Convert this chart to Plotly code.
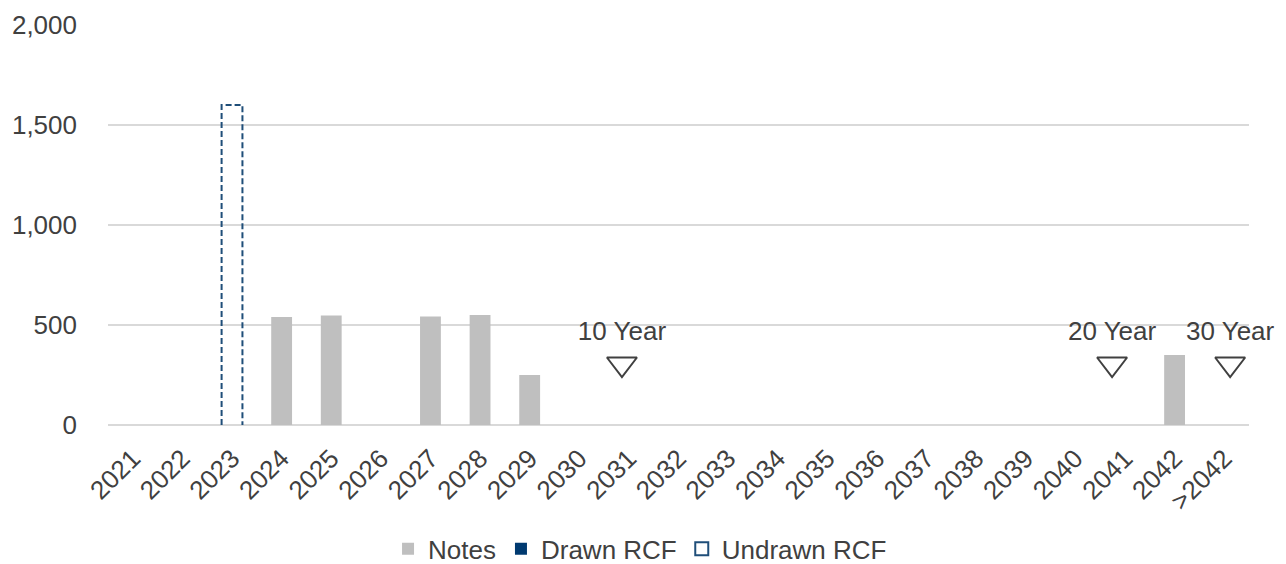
import plotly.graph_objects as go

categories = ["2021", "2022", "2023", "2024", "2025", "2026", "2027", "2028", "2029", "2030",
              "2031", "2032", "2033", "2034", "2035", "2036", "2037", "2038", "2039", "2040",
              "2041", "2042", ">2042"]
notes = [None, None, None, 540, 548, None, 542, 550, 250, None,
         None, None, None, None, None, None, None, None, None, None,
         None, 350, None]
drawn_rcf = [None] * len(categories)
undrawn_rcf = [None, None, 1600] + [None] * 20
milestone_labels = ["10 Year", "20 Year", "30 Year"]
milestone_x = [9.86, 19.74, 22.12]   # positions on the category scale (index units)
milestone_values = [305, 305, 305]
y_ticks = [0, 500, 1000, 1500, 2000]

xpos = list(range(len(categories)))
BAR_W = 0.42
NAVY = "#1F4E79"
FONT = "Liberation Sans, Arial, sans-serif"
TXT = "#404040"

fig = go.Figure()
fig.add_trace(go.Bar(x=xpos, y=notes, name="Notes", width=BAR_W,
                     marker=dict(color="#BFBFBF", line=dict(width=0))))
fig.add_trace(go.Bar(x=xpos, y=drawn_rcf, name="Drawn RCF", width=BAR_W,
                     marker=dict(color="#003A70", line=dict(width=0))))

# dashed outline for undrawn RCF
for i, v in enumerate(undrawn_rcf):
    if v is None:
        continue
    xs = [i - BAR_W / 2, i - BAR_W / 2, i + BAR_W / 2, i + BAR_W / 2]
    ys = [0, v, v, 0]
    fig.add_trace(go.Scatter(x=xs, y=ys, mode="lines", showlegend=False,
                             line=dict(color=NAVY, width=2, dash="6px,3px"),
                             hoverinfo="skip"))
fig.add_trace(go.Scatter(x=[None], y=[None], mode="markers", name="Undrawn RCF",
                         marker=dict(symbol="square-open", size=13, color=NAVY,
                                     line=dict(width=2, color=NAVY))))

fig.add_trace(go.Scatter(x=milestone_x, y=milestone_values, mode="markers+text",
                         text=milestone_labels, textposition="top center",
                         textfont=dict(size=26, color=TXT, family=FONT),
                         marker=dict(symbol="triangle-down-open", size=26, color=TXT,
                                     line=dict(width=2, color=TXT)),
                         showlegend=False, cliponaxis=False))

fig.update_layout(
    width=1286, height=564,
    margin=dict(l=108, r=37, t=25, b=139),
    paper_bgcolor="white", plot_bgcolor="white",
    font=dict(family=FONT, size=26, color=TXT),
    barmode="overlay",
    showlegend=True,
    legend=dict(orientation="h", xref="container", yref="container",
                x=0.4977, xanchor="center", y=0.027, yanchor="middle",
                font=dict(size=26, color=TXT), itemwidth=30, traceorder="normal"),
)
fig.update_xaxes(range=[-0.5, len(categories) - 0.5], tickmode="array", tickvals=xpos,
                 ticktext=categories, tickangle=-45, showgrid=False, zeroline=False,
                 showline=False, ticks="", automargin=False, ticklabelstandoff=12,
                 tickfont=dict(size=26, color=TXT))
fig.update_yaxes(range=[0, 2000], tickmode="array", tickvals=y_ticks,
                 ticktext=[f"{v:,}" for v in y_ticks], showgrid=True, gridcolor="#D9D9D9",
                 gridwidth=2, zeroline=True, zerolinecolor="#D9D9D9", zerolinewidth=2,
                 showline=False, ticks="", ticklabelstandoff=30, automargin=False,
                 tickfont=dict(size=26, color=TXT))

fig.write_html("out.html", config={"displayModeBar": False},
               post_script="document.body.style.margin='0';document.body.style.overflow='hidden';")
